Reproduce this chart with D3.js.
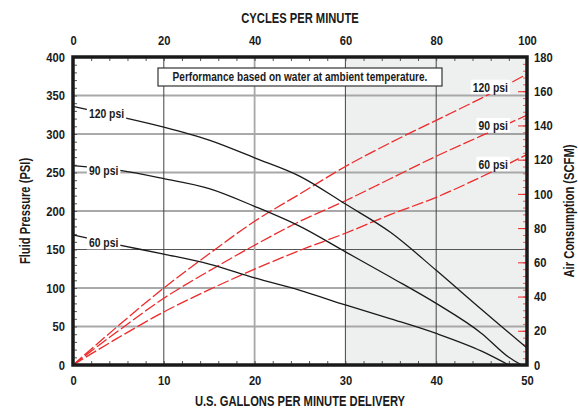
<!DOCTYPE html>
<html><head><meta charset="utf-8">
<script src="https://cdn.jsdelivr.net/npm/d3@7"></script>
<style>
body{margin:0;background:#fff;}
text{font-family:"Liberation Sans Narrow","Arial Narrow","Liberation Sans",sans-serif;font-weight:bold;fill:#1a1a1a;}
</style></head>
<body><svg id="c" width="578" height="409"></svg>
<script>
// ---- data ----
const gpmTicks = [0,10,20,30,40,50];
const cycleTicks = [0,20,40,60,80,100];
const psiTicks = [0,50,100,150,200,250,300,350,400];
const scfmTicks = [0,20,40,60,80,100,120,140,160,180];
const seriesNames = ["120 psi","90 psi","60 psi"];
// fluid pressure curves [gpm, psi]
const fluid120 = [[0,336],[5,323],[10,309],[15,292],[20,269],[25,245],[30,209],[35,172],[40,123],[45,72],[47,52],[50,22]];
const fluid90  = [[0,259],[5,253],[10,242],[15,229],[20,206],[25,180],[30,147],[35,114],[40,80],[45,41],[48,10],[49.4,0]];
const fluid60  = [[0,169],[5,156],[10,144],[15,131],[20,113],[25,97],[30,78],[35,60],[40,41],[45,18],[48,0]];
// air consumption curves [gpm, scfm]
const air120 = [[0,0],[5,23],[10,45],[15,65],[20,84],[25,100],[30,116],[35,130],[40,143],[45,156],[50,170]];
const air90  = [[0,0],[5,20],[10,39],[15,55],[20,70],[25,84],[30,96],[35,109],[40,122],[45,134],[50,146]];
const air60  = [[0,0],[5,16],[10,31],[15,44],[20,56],[25,67],[30,77],[35,88],[40,98],[45,110],[50,123]];
const note = "Performance based on water at ambient temperature.";

// ---- layout ----
const L=73, R=527, T=57, B=365;
const svg = d3.select("#c");
const x = d3.scaleLinear().domain([0,50]).range([L,R]);
const xc = d3.scaleLinear().domain([0,100]).range([L,R]);
const y = d3.scaleLinear().domain([0,400]).range([B,T]);
const yr = d3.scaleLinear().domain([0,180]).range([B,T]);

// horizontal compression for text (emulating a condensed face)
function squeeze(sel,k){
  sel.each(function(){
    const t=d3.select(this);
    const ax=+(t.attr("x")||0);
    const prev=t.attr("transform")||"";
    if(prev) t.attr("transform",prev+` scale(${k},1)`);
    else t.attr("transform",`translate(${ax},0) scale(${k},1) translate(${-ax},0)`);
  });
}

// shaded region
svg.append("rect").attr("x",x(30)).attr("y",T).attr("width",x(50)-x(30)).attr("height",B-T).attr("fill","#eef0ef");

// grid
const hDark = new Set([300,150,100]);
psiTicks.filter(d=>d>0&&d<400).forEach(d=>{
  svg.append("line").attr("x1",L).attr("x2",R).attr("y1",y(d)).attr("y2",y(d))
    .attr("stroke",hDark.has(d)?"#555":"#a8a8a8").attr("stroke-width",hDark.has(d)?1:1.8);
});
gpmTicks.filter(d=>d>0&&d<50).forEach(d=>{
  svg.append("line").attr("x1",x(d)).attr("x2",x(d)).attr("y1",T).attr("y2",B)
    .attr("stroke",d===20?"#a8a8a8":"#444").attr("stroke-width",d===20?1.8:1);
});

// minor ticks
const tk = (g)=>g.call(s=>s.select(".domain").remove());
svg.append("g").attr("transform",`translate(${L},0)`)
  .call(d3.axisRight(y).tickValues(d3.range(0,401,10)).tickSize(4).tickFormat("")).call(tk)
  .selectAll("line").attr("stroke","#555");
svg.append("g").attr("transform",`translate(0,${B})`)
  .call(d3.axisTop(x).tickValues(d3.range(0,51,2)).tickSize(4).tickFormat("")).call(tk)
  .selectAll("line").attr("stroke","#555");
svg.append("g").attr("transform",`translate(0,${T})`)
  .call(d3.axisBottom(xc).tickValues(d3.range(0,101,4)).tickSize(4).tickFormat("")).call(tk)
  .selectAll("line").attr("stroke","#555");
svg.append("g").attr("transform",`translate(${R},0)`)
  .call(d3.axisLeft(yr).tickValues(d3.range(0,181,4)).tickSize(4).tickFormat("")).call(tk)
  .selectAll("line").attr("stroke","#f05a5a");
svg.append("g").attr("transform",`translate(${R},0)`)
  .call(d3.axisLeft(yr).tickValues(scfmTicks).tickSize(9).tickFormat("")).call(tk)
  .selectAll("line").attr("stroke","#ee2222");

// major labels
const lab = (g,fs)=>{g.call(s=>s.select(".domain").remove()); g.selectAll("line").remove(); g.selectAll("text").style("font-size",fs).attr("fill","#1a1a1a"); squeeze(g.selectAll("text"),0.86);};
svg.append("g").attr("transform",`translate(${L-3},0)`)
  .call(d3.axisLeft(y).tickValues(psiTicks).tickSize(0).tickPadding(5)).call(g=>lab(g,"13px"));
svg.append("g").attr("transform",`translate(${R+3},0)`)
  .call(d3.axisRight(yr).tickValues(scfmTicks).tickSize(0).tickPadding(4)).call(g=>lab(g,"13px"));
svg.append("g").attr("transform",`translate(0,${B+3})`)
  .call(d3.axisBottom(x).tickValues(gpmTicks).tickSize(0).tickPadding(8)).call(g=>lab(g,"13px"));
svg.append("g").attr("transform",`translate(0,${T-10})`)
  .call(d3.axisTop(xc).tickValues(cycleTicks).tickSize(0).tickPadding(2)).call(g=>lab(g,"13px"));

// titles
const titles = svg.append("g");
titles.append("text").attr("x",(L+R)/2).attr("y",23).attr("text-anchor","middle").style("font-size","14px").text("CYCLES PER MINUTE");
titles.append("text").attr("x",(L+R)/2).attr("y",406).attr("text-anchor","middle").style("font-size","14px").text("U.S. GALLONS PER MINUTE DELIVERY");
titles.append("text").attr("transform",`translate(30,${(T+B)/2}) rotate(-90)`).attr("text-anchor","middle").style("font-size","14px").text("Fluid Pressure (PSI)");
titles.append("text").attr("transform",`translate(574,${(T+B)/2}) rotate(-90)`).attr("text-anchor","middle").style("font-size","14px").text("Air Consumption (SCFM)");
squeeze(titles.selectAll("text"),0.8);

// curves
const lineF = d3.line().x(d=>x(d[0])).y(d=>y(d[1])).curve(d3.curveMonotoneX);
const lineA = d3.line().x(d=>x(d[0])).y(d=>yr(d[1])).curve(d3.curveMonotoneX);
[air120,air90,air60].forEach(s=>{
  svg.append("path").attr("d",lineA(s)).attr("fill","none").attr("stroke","#ee2a2a").attr("stroke-width",1.3).attr("stroke-dasharray","12,3");
});
[fluid120,fluid90,fluid60].forEach(s=>{
  svg.append("path").attr("d",lineF(s)).attr("fill","none").attr("stroke","#1a1a1a").attr("stroke-width",1.3);
});

// series labels with white background
function tag(tx,ty,txt,anchor){
  const g = svg.append("g");
  const t = g.append("text").attr("x",tx).attr("y",ty).attr("dy","0.35em").attr("text-anchor",anchor).style("font-size","13px").text(txt);
  squeeze(t,0.8);
  const bb = t.node().getBBox();
  const w = bb.width*0.8, x0 = anchor==="end" ? tx-w : tx;
  g.insert("rect","text").attr("x",x0-2).attr("y",bb.y).attr("width",w+4).attr("height",bb.height).attr("fill","#fff");
}
tag(x(1.75),y(327),seriesNames[0],"start");
tag(x(1.75),y(253),seriesNames[1],"start");
tag(x(1.75),y(159),seriesNames[2],"start");
tag(x(47.9),yr(162.3),seriesNames[0],"end");
tag(x(47.9),yr(139.9),seriesNames[1],"end");
tag(x(47.9),yr(117.3),seriesNames[2],"end");

// note box
svg.append("rect").attr("x",158).attr("y",68).attr("width",284).attr("height",18).attr("fill","#fff").attr("stroke","#333").attr("stroke-width",1.2);
const nt = svg.append("text").attr("x",300).attr("y",77).attr("dy","0.35em").attr("text-anchor","middle").style("font-size","12px").text(note);
squeeze(nt,0.84);

// frame
svg.append("rect").attr("x",L).attr("y",T).attr("width",R-L).attr("height",B-T).attr("fill","none").attr("stroke","#1a1a1a").attr("stroke-width",3.5);
</script></body></html>
